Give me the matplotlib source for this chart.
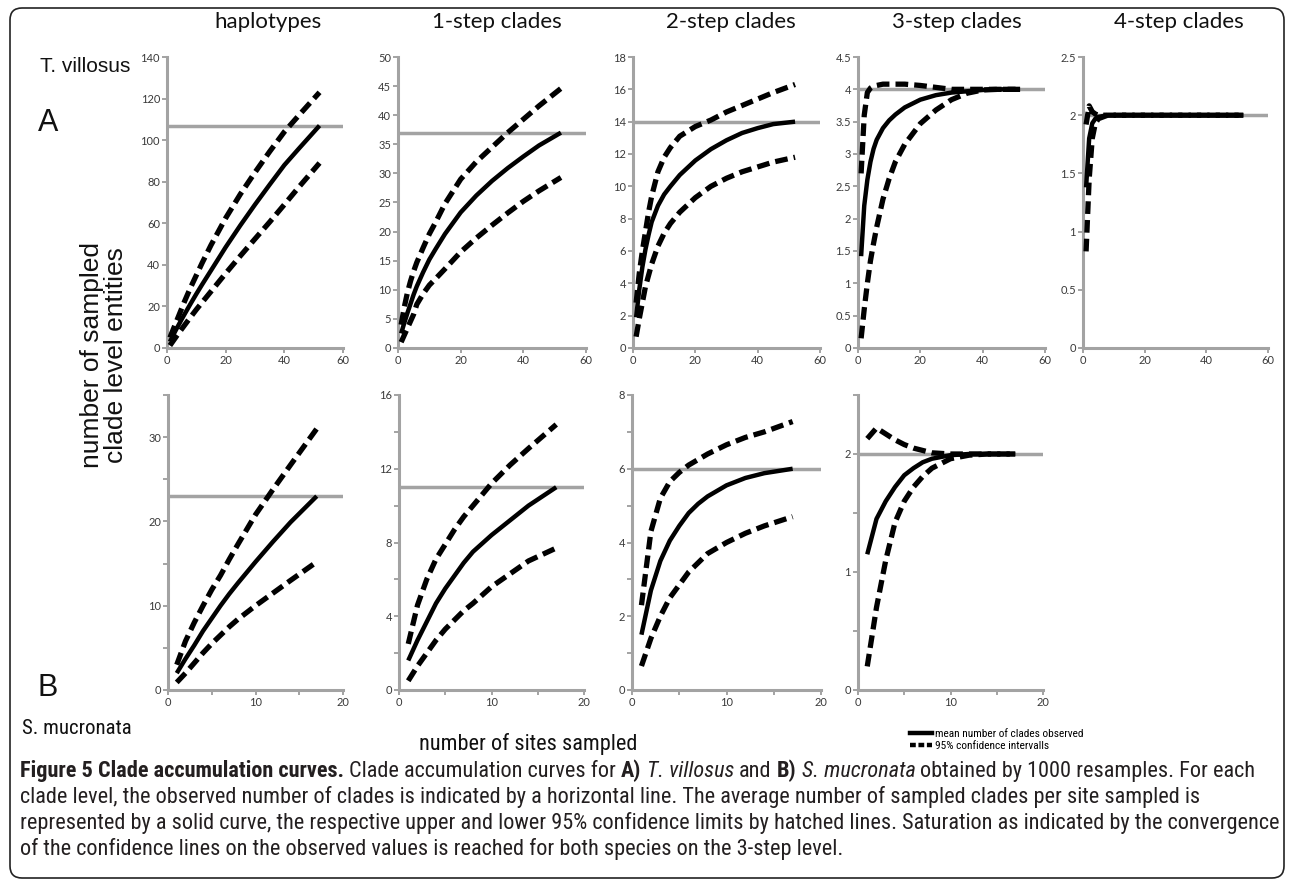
import matplotlib
matplotlib.use("Agg")
import matplotlib.pyplot as plt
from matplotlib.lines import Line2D
from matplotlib.patches import FancyBboxPatch
from matplotlib.ticker import MultipleLocator, FuncFormatter
from matplotlib import font_manager as fm
from matplotlib.font_manager import FontProperties

# ---------------- data ----------------
columns = ["haplotypes", "1-step clades", "2-step clades", "3-step clades", "4-step clades"]

# T. villosus (A), 52 sites
tv_sites = [1, 2, 3, 4, 5, 6, 8, 10, 12, 15, 20, 25, 30, 35, 40, 45, 52]
tv_observed = [107, 37, 14, 4, 2]
tv_mean = [
    [3.0, 5.9, 8.6, 11.2, 13.8, 16.3, 21.2, 26.0, 30.6, 37.3, 48.5, 59.0, 69.0, 78.6, 88.0, 96.0, 107.0],
    [2.5, 4.3, 6.0, 7.6, 9.2, 10.6, 13.0, 15.2, 17.0, 19.6, 23.3, 26.2, 28.7, 30.9, 32.9, 34.8, 37.0],
    [1.9, 3.6, 5.0, 6.1, 7.0, 7.8, 8.8, 9.5, 10.0, 10.7, 11.6, 12.3, 12.85, 13.3, 13.6, 13.85, 14.0],
    [1.42, 2.2, 2.6, 2.88, 3.08, 3.22, 3.4, 3.52, 3.61, 3.72, 3.84, 3.91, 3.95, 3.97, 3.99, 4.0, 4.0],
    [1.38, 1.8, 1.93, 1.97, 1.985, 1.99, 2.0, 2.0, 2.0, 2.0, 2.0, 2.0, 2.0, 2.0, 2.0, 2.0, 2.0],
]
tv_upper = [
    [5.0, 8.5, 12.0, 15.5, 19.0, 22.5, 29.0, 35.0, 41.0, 49.5, 62.5, 74.0, 84.5, 94.5, 104.0, 112.0, 123.0],
    [4.0, 7.0, 9.5, 11.5, 13.2, 14.7, 17.2, 19.6, 21.6, 24.8, 29.0, 32.0, 34.5, 37.0, 39.3, 41.6, 44.6],
    [2.8, 4.6, 6.0, 7.2, 8.4, 9.4, 10.9, 11.8, 12.4, 13.1, 13.7, 14.1, 14.6, 15.0, 15.4, 15.8, 16.3],
    [2.7, 3.6, 3.95, 4.02, 4.05, 4.06, 4.08, 4.08, 4.08, 4.08, 4.06, 4.03, 4.0, 4.0, 4.0, 4.0, 4.0],
    [1.92, 2.08, 2.03, 2.01, 2.0, 2.0, 2.0, 2.0, 2.0, 2.0, 2.0, 2.0, 2.0, 2.0, 2.0, 2.0, 2.0],
]
tv_lower = [
    [1.2, 3.2, 5.2, 7.2, 9.1, 11.0, 14.8, 18.5, 22.0, 27.2, 35.9, 44.3, 52.5, 60.6, 69.0, 77.5, 89.0],
    [1.0, 2.2, 3.4, 4.6, 5.8, 7.5, 9.3, 10.8, 11.9, 13.6, 16.5, 18.9, 21.1, 23.2, 25.2, 27.0, 29.3],
    [0.7, 1.8, 2.8, 3.8, 4.5, 5.2, 6.3, 7.1, 7.7, 8.4, 9.3, 10.0, 10.5, 10.9, 11.2, 11.5, 11.8],
    [0.15, 0.6, 1.0, 1.35, 1.62, 1.87, 2.3, 2.62, 2.88, 3.15, 3.47, 3.68, 3.84, 3.94, 3.99, 4.0, 4.0],
    [0.83, 1.45, 1.8, 1.93, 1.97, 1.98, 2.0, 2.0, 2.0, 2.0, 2.0, 2.0, 2.0, 2.0, 2.0, 2.0, 2.0],
]

# S. mucronata (B), 17 sites
sm_sites = [1, 2, 3, 4, 5, 6, 7, 8, 10, 12, 14, 17]
sm_observed = [23, 11, 6, 2]
sm_mean = [
    [2.0, 3.7, 5.3, 7.0, 8.5, 10.0, 11.4, 12.7, 15.2, 17.6, 19.9, 23.0],
    [1.6, 2.7, 3.7, 4.7, 5.5, 6.2, 6.9, 7.5, 8.4, 9.2, 10.0, 11.0],
    [1.5, 2.7, 3.5, 4.05, 4.45, 4.8, 5.05, 5.25, 5.55, 5.75, 5.88, 6.0],
    [1.15, 1.45, 1.6, 1.72, 1.82, 1.88, 1.93, 1.96, 1.99, 2.0, 2.0, 2.0],
]
sm_upper = [
    [3.0, 5.8, 8.0, 10.0, 11.9, 13.6, 15.5, 17.3, 20.8, 23.8, 26.7, 31.0],
    [2.5, 4.6, 6.0, 7.1, 7.9, 8.7, 9.4, 10.0, 11.2, 12.2, 13.1, 14.4],
    [2.3, 4.3, 5.2, 5.65, 5.9, 6.1, 6.25, 6.4, 6.65, 6.85, 7.0, 7.28],
    [2.13, 2.22, 2.17, 2.12, 2.08, 2.05, 2.03, 2.01, 2.0, 2.0, 2.0, 2.0],
]
sm_lower = [
    [0.9, 2.0, 3.2, 4.4, 5.5, 6.5, 7.5, 8.4, 10.0, 11.5, 13.0, 15.2],
    [0.5, 1.3, 2.0, 2.7, 3.3, 3.8, 4.3, 4.7, 5.6, 6.3, 7.0, 7.7],
    [0.65, 1.4, 2.0, 2.5, 2.85, 3.2, 3.45, 3.7, 4.0, 4.25, 4.45, 4.7],
    [0.2, 0.7, 1.1, 1.42, 1.6, 1.72, 1.81, 1.88, 1.96, 1.99, 2.0, 2.0],
]

tv_ylim = [140, 50, 18, 4.5, 2.5]
tv_ystep = [20, 5, 2, 0.5, 0.5]
sm_ylim = [35, 16, 8, 2.5]
sm_ystep = [10, 4, 2, 1]
sm_yminor = [5, 2, 1, 0.5]

# ---------------- fonts ----------------
_entries = fm.fontManager.ttflist
_names = {f.name for f in _entries}


def _has_stretch(name):
    return any(f.name == name and str(f.stretch) in ("condensed", "semi-condensed",
                                                        "extra-condensed")
               for f in _entries)


if "Liberation Sans Narrow" in _names:
    NARROW = dict(family="Liberation Sans Narrow")
elif "Roboto Condensed" in _names:
    NARROW = dict(family="Roboto Condensed")
elif _has_stretch("DejaVu Sans"):
    NARROW = dict(family="DejaVu Sans", stretch="condensed")
elif _has_stretch("Noto Sans"):
    NARROW = dict(family="Noto Sans", stretch="condensed")
elif _has_stretch("Open Sans"):
    NARROW = dict(family="Open Sans", stretch="condensed")
elif _has_stretch("Roboto"):
    NARROW = dict(family="Roboto", stretch="condensed")
else:
    NARROW = dict(family="Roboto")


def nfp(size, weight="normal", style="normal"):
    return FontProperties(size=size, weight=weight, style=style, **NARROW)


# ---------------- style ----------------
W, H = 1290, 884
GRAY = "#a3a3a3"
TICKTXT = "#3a3a3a"
ARIAL = ["Liberation Sans", "DejaVu Sans"]
CAL = ["Lato", "DejaVu Sans"]

fig = plt.figure(figsize=(W / 100, H / 100), dpi=100)
fig.patch.set_facecolor("white")


def add_ax(x0, x1, ytop, ybot):
    return fig.add_axes([x0 / W, 1 - ybot / H, (x1 - x0) / W, (ybot - ytop) / H])


def style_ax(ax):
    for s in ("top", "right"):
        ax.spines[s].set_visible(False)
    for s in ("left", "bottom"):
        ax.spines[s].set_color(GRAY)
        ax.spines[s].set_linewidth(2.2)
    ax.tick_params(which="both", direction="out", color=GRAY, width=1.4,
                   labelcolor=TICKTXT, labelsize=8, pad=1.5, length=3.5)
    for lab in ax.get_xticklabels() + ax.get_yticklabels():
        lab.set_family(CAL)
    ax.set_facecolor("none")


DASH = (0, (2.4, 1.15))


def draw(ax, x, mean, up, lo, obs, xmax):
    ax.axhline(obs, color=GRAY, lw=2.5, zorder=1)
    ax.plot(x, up, color="black", lw=3.8, ls=DASH, zorder=3, clip_on=False)
    ax.plot(x, lo, color="black", lw=3.8, ls=DASH, zorder=3, clip_on=False)
    ax.plot(x, mean, color="black", lw=3.2, zorder=4, clip_on=False,
            solid_capstyle="butt", solid_joinstyle="round")
    ax.set_xlim(0, xmax)


top_x = [(167, 343), (398, 586), (633, 820), (858, 1045), (1083, 1268)]
bot_x = [(168, 343), (399, 584), (632, 821), (858, 1043)]

for i in range(5):
    ax = add_ax(top_x[i][0], top_x[i][1], 57, 348)
    draw(ax, tv_sites, tv_mean[i], tv_upper[i], tv_lower[i], tv_observed[i], 60)
    ax.set_ylim(0, tv_ylim[i])
    ax.yaxis.set_major_locator(MultipleLocator(tv_ystep[i]))
    ax.xaxis.set_major_locator(MultipleLocator(20))
    ax.yaxis.set_major_formatter(FuncFormatter(lambda v, p: "%g" % v))
    style_ax(ax)

for i in range(4):
    ax = add_ax(bot_x[i][0], bot_x[i][1], 395, 690)
    draw(ax, sm_sites, sm_mean[i], sm_upper[i], sm_lower[i], sm_observed[i], 20)
    ax.set_ylim(0, sm_ylim[i])
    ax.yaxis.set_major_locator(MultipleLocator(sm_ystep[i]))
    ax.yaxis.set_minor_locator(MultipleLocator(sm_yminor[i]))
    ax.xaxis.set_major_locator(MultipleLocator(10))
    ax.xaxis.set_minor_locator(MultipleLocator(5))
    style_ax(ax)

# ---------------- texts ----------------
title_cx = [268, 497, 731, 957, 1179]
for cx, t in zip(title_cx, columns):
    fig.text(cx / W, 1 - 22 / H, t, ha="center", va="center", fontsize=16,
             family=CAL, color="#111111")

fig.text(40 / W, 1 - 66 / H, "T. villosus", ha="left", va="center", fontsize=15,
         family=ARIAL, color="#111111")
fig.text(38 / W, 1 - 123 / H, "A", ha="left", va="center", fontsize=22,
         family=ARIAL, color="#111111")
fig.text(38 / W, 1 - 688 / H, "B", ha="left", va="center", fontsize=22,
         family=ARIAL, color="#111111")
fig.text(22 / W, 1 - 728 / H, "S. mucronata", ha="left", va="center",
         fontproperties=nfp(15), color="#111111")
fig.text(104 / W, 1 - 355 / H, "number of sampled\nclade level entities",
         rotation=90, ha="center", va="center", fontsize=19, family=ARIAL,
         linespacing=0.95, multialignment="center", color="#111111")
fig.text(528 / W, 1 - 744 / H, "number of sites sampled", ha="center", va="center",
         fontproperties=nfp(16), color="#111111")

handles = [Line2D([], [], color="black", lw=3.2),
           Line2D([], [], color="black", lw=3.2, ls=(0, (1.3, 0.6)))]
fig.legend(handles, ["mean number of clades observed", "95% confidence intervalls"],
           loc="upper left", bbox_to_anchor=(910 / W, 1 - 729 / H), frameon=False,
           prop=nfp(8.2), handlelength=1.9, handletextpad=0.3,
           labelspacing=0.2, borderaxespad=0, borderpad=0)

# ---------------- caption ----------------
renderer = fig.canvas.get_renderer()
CAPC = "#231f20"


def measure(txt, fp):
    t = fig.text(0, 0, txt, fontproperties=fp)
    w = t.get_window_extent(renderer).width
    t.remove()
    return w


def advance(txt, fp):
    # pen advance of txt (including spaces), measured between two bars
    return measure("|" + txt + "|", fp) - measure("||", fp)


def rich_line(x_px, y_px, pieces, size, draw_it=True):
    x = x_px
    for txt, weight, style in pieces:
        fp = nfp(size, weight, style)
        core = txt.strip(" ")
        lead = txt[:len(txt) - len(txt.lstrip(" "))]
        if lead:
            x += advance(lead, fp)
        if core and draw_it:
            fig.text(x / W, 1 - y_px / H, core, fontproperties=fp,
                     ha="left", va="baseline", color=CAPC)
        rest = txt.lstrip(" ")
        if rest:
            x += advance(rest, fp)
    return x - x_px


N, B, I = "normal", "bold", "italic"
line1 = [("Figure 5 Clade accumulation curves.", B, N),
         (" Clade accumulation curves for ", N, N), ("A)", B, N),
         (" ", N, N), ("T. villosus", N, I), (" and ", N, N), ("B)", B, N),
         (" ", N, N), ("S. mucronata", N, I),
         (" obtained by 1000 resamples. For each", N, N)]
line2 = [("clade level, the observed number of clades is indicated by a horizontal line. "
          "The average number of sampled clades per site sampled is", N, N)]
line3 = [("represented by a solid curve, the respective upper and lower 95% confidence "
          "limits by hatched lines. Saturation as indicated by the convergence", N, N)]
line4 = [("of the confidence lines on the observed values is reached for both species "
          "on the 3-step level.", N, N)]

s0 = 14.0
w0 = rich_line(20, 0, line1, s0, draw_it=False)
cap_size = s0 * 1242 / w0
for k, ln in enumerate([line1, line2, line3, line4]):
    rich_line(20, 777 + 26 * k, ln, cap_size)

# ---------------- frame ----------------
frame = FancyBboxPatch((10, 6), 1274, 870, boxstyle="round,pad=0,rounding_size=12",
                       transform=None, fill=False, edgecolor="#222222", lw=1.2)
fig.patches.append(frame)

fig.savefig("out.png", dpi=100, facecolor="white")
